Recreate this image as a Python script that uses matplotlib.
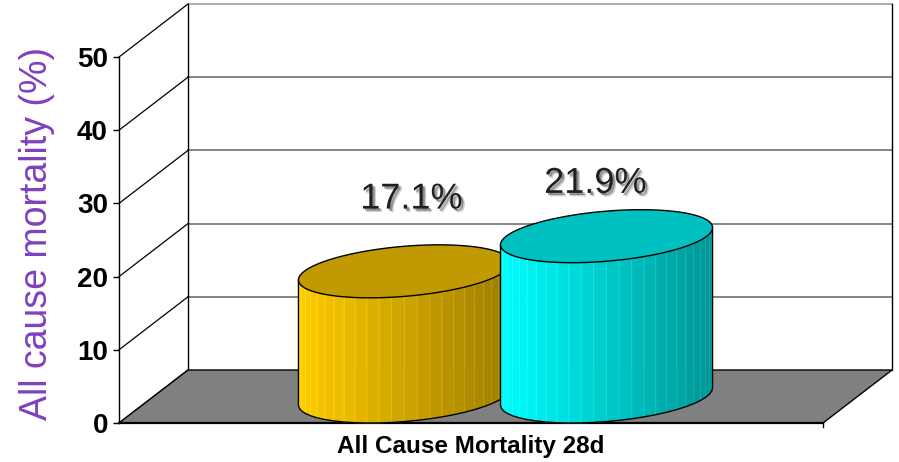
import numpy as np
import matplotlib
matplotlib.use('Agg')
import matplotlib.pyplot as plt
from matplotlib.patches import Polygon
from matplotlib import patheffects as pe
from matplotlib.colors import to_rgb

# data
category = 'All Cause Mortality 28d'
series_values = [17.1, 21.9]
value_labels = ['17.1%', '21.9%']
side_left = ['#FFCC00', '#00FFFF']
side_right = ['#9C7C00', '#009494']
top_colors = ['#C09A00', '#00C0C0']
y_ticks = [0, 10, 20, 30, 40, 50]
y_label = 'All cause mortality (%)'

W, H = 899, 462
fig = plt.figure(figsize=(W / 100, H / 100), dpi=100)
ax = fig.add_axes([119 / W, 39 / H, 704 / W, 366 / H])
ax.set_xlim(0, 1)
ax.set_ylim(0, 50)
ax.patch.set_visible(False)

# depth of the 3d box in data units
DX = 69 / 704
DY = 53 / 7.32


def proj(x, y, z):
    return x + z * DX, y + z * DY


# back wall
bw = [proj(0, 0, 1), proj(1, 0, 1), proj(1, 50, 1), proj(0, 50, 1)]
ax.add_patch(Polygon(bw, closed=True, facecolor='white', edgecolor='none',
                     zorder=1, clip_on=False))
for v in y_ticks[1:-1]:
    (x0, y0), (x1, y1) = proj(0, v, 1), proj(1, v, 1)
    ax.plot([x0, x1], [y0, y1], color='#707070', lw=1.2, zorder=2, clip_on=False)
(x0, y0), (x1, y1) = proj(0, 50, 1), proj(1, 50, 1)
ax.plot([x0, x1], [y0, y1], color='#a0a0a0', lw=1.2, zorder=2, clip_on=False)
for xx in [0, 1]:
    (x0, y0), (x1, y1) = proj(xx, 0, 1), proj(xx, 50, 1)
    ax.plot([x0, x1], [y0, y1], color='black', lw=1.0, zorder=2, clip_on=False)

# left wall lines
for v in y_ticks:
    (x1, y1) = proj(0, v, 1)
    ax.plot([0, x1], [v, y1], color='black', lw=0.9, zorder=2, clip_on=False)

# floor
fl = [proj(0, 0, 0), proj(1, 0, 0), proj(1, 0, 1), proj(0, 0, 1)]
ax.add_patch(Polygon(fl, closed=True, facecolor='#808080', edgecolor='black',
                     lw=1.0, zorder=3, clip_on=False))
ax.plot([0, 1], [0, 0], color='black', lw=1.6, zorder=3, clip_on=False)
ax.plot([1, 1], [0, -0.6], color='black', lw=1.0, zorder=3, clip_on=False)

# cylinders
group_center = 0.5
spacing = 0.287
R = 0.1424
t0 = np.arctan(0.5 * DX / R)
centers = [group_center - spacing / 2, group_center + spacing / 2]


def ring(xc, v, t):
    x = xc + R * np.cos(t)
    z = 0.5 + 0.5 * np.sin(t)
    return proj(x, v, z)


for i, (xc, val) in enumerate(zip(centers, series_values)):
    zb = 5 + i * 2
    n = 26
    ts = np.linspace(np.pi + t0, 2 * np.pi + t0, n + 1)
    bx, by = ring(xc, 0, ts)
    tx, ty = ring(xc, val, ts)
    c0, c1 = np.array(to_rgb(side_left[i])), np.array(to_rgb(side_right[i]))
    xmin, xmax = bx.min(), bx.max()
    for k in range(n):
        f = ((bx[k] + bx[k + 1]) / 2 - xmin) / (xmax - xmin)
        col = c0 + (c1 - c0) * f
        edge = np.clip(col + 0.08, 0, 1)
        quad = [(bx[k], by[k]), (bx[k + 1], by[k + 1]),
                (tx[k + 1], ty[k + 1]), (tx[k], ty[k])]
        ax.add_patch(Polygon(quad, closed=True, facecolor=col, edgecolor=edge,
                             lw=0.6, zorder=zb, clip_on=False))
    # outline of side
    ox = np.concatenate([[tx[0]], bx, [tx[-1]]])
    oy = np.concatenate([[ty[0]], by, [ty[-1]]])
    ax.plot(ox, oy, color='black', lw=1.0, zorder=zb + 0.5, clip_on=False)
    # top
    tt = np.linspace(0, 2 * np.pi, 200)
    ex, ey = ring(xc, val, tt)
    ax.add_patch(Polygon(np.column_stack([ex, ey]), closed=True,
                         facecolor=top_colors[i], edgecolor='black', lw=1.0,
                         zorder=zb + 0.6, clip_on=False))

# value labels
label_offsets = [(5, 52), (-8, 38)]
shadow = [pe.SimplePatchShadow(offset=(2.5, -2.5), shadow_rgbFace='black', alpha=0.18),
          pe.SimplePatchShadow(offset=(1.5, -1.5), shadow_rgbFace='black', alpha=0.35),
          pe.Normal()]
for i, (xc, val) in enumerate(zip(centers, series_values)):
    px, py = proj(xc, val, 0.5)
    ax.annotate(value_labels[i], (px, py), xytext=label_offsets[i],
                textcoords='offset points', ha='center', va='center',
                fontsize=26, family='Liberation Sans', color='#202020',
                path_effects=shadow, zorder=20, annotation_clip=False)

# axes
for s in ['top', 'right', 'bottom']:
    ax.spines[s].set_visible(False)
ax.spines['left'].set_linewidth(1.0)
ax.spines['left'].set_zorder(4)
ax.set_xticks([])
ax.set_yticks(y_ticks)
ax.set_yticklabels([str(v) for v in y_ticks], fontsize=20, fontweight='bold',
                   family='Liberation Sans')
ax.tick_params(axis='y', direction='out', length=4, width=1, pad=4)

ax.text(0.5, -24 / 366, category, transform=ax.transAxes, ha='center',
        va='center', fontsize=17.5, fontweight='bold', family='Liberation Sans')
fig.text(37 / W, 1 - 233 / H, y_label, rotation=90, ha='center', va='center',
         fontsize=27, color='#8040C0', family='Liberation Sans')

fig.savefig('out.png', dpi=100)
